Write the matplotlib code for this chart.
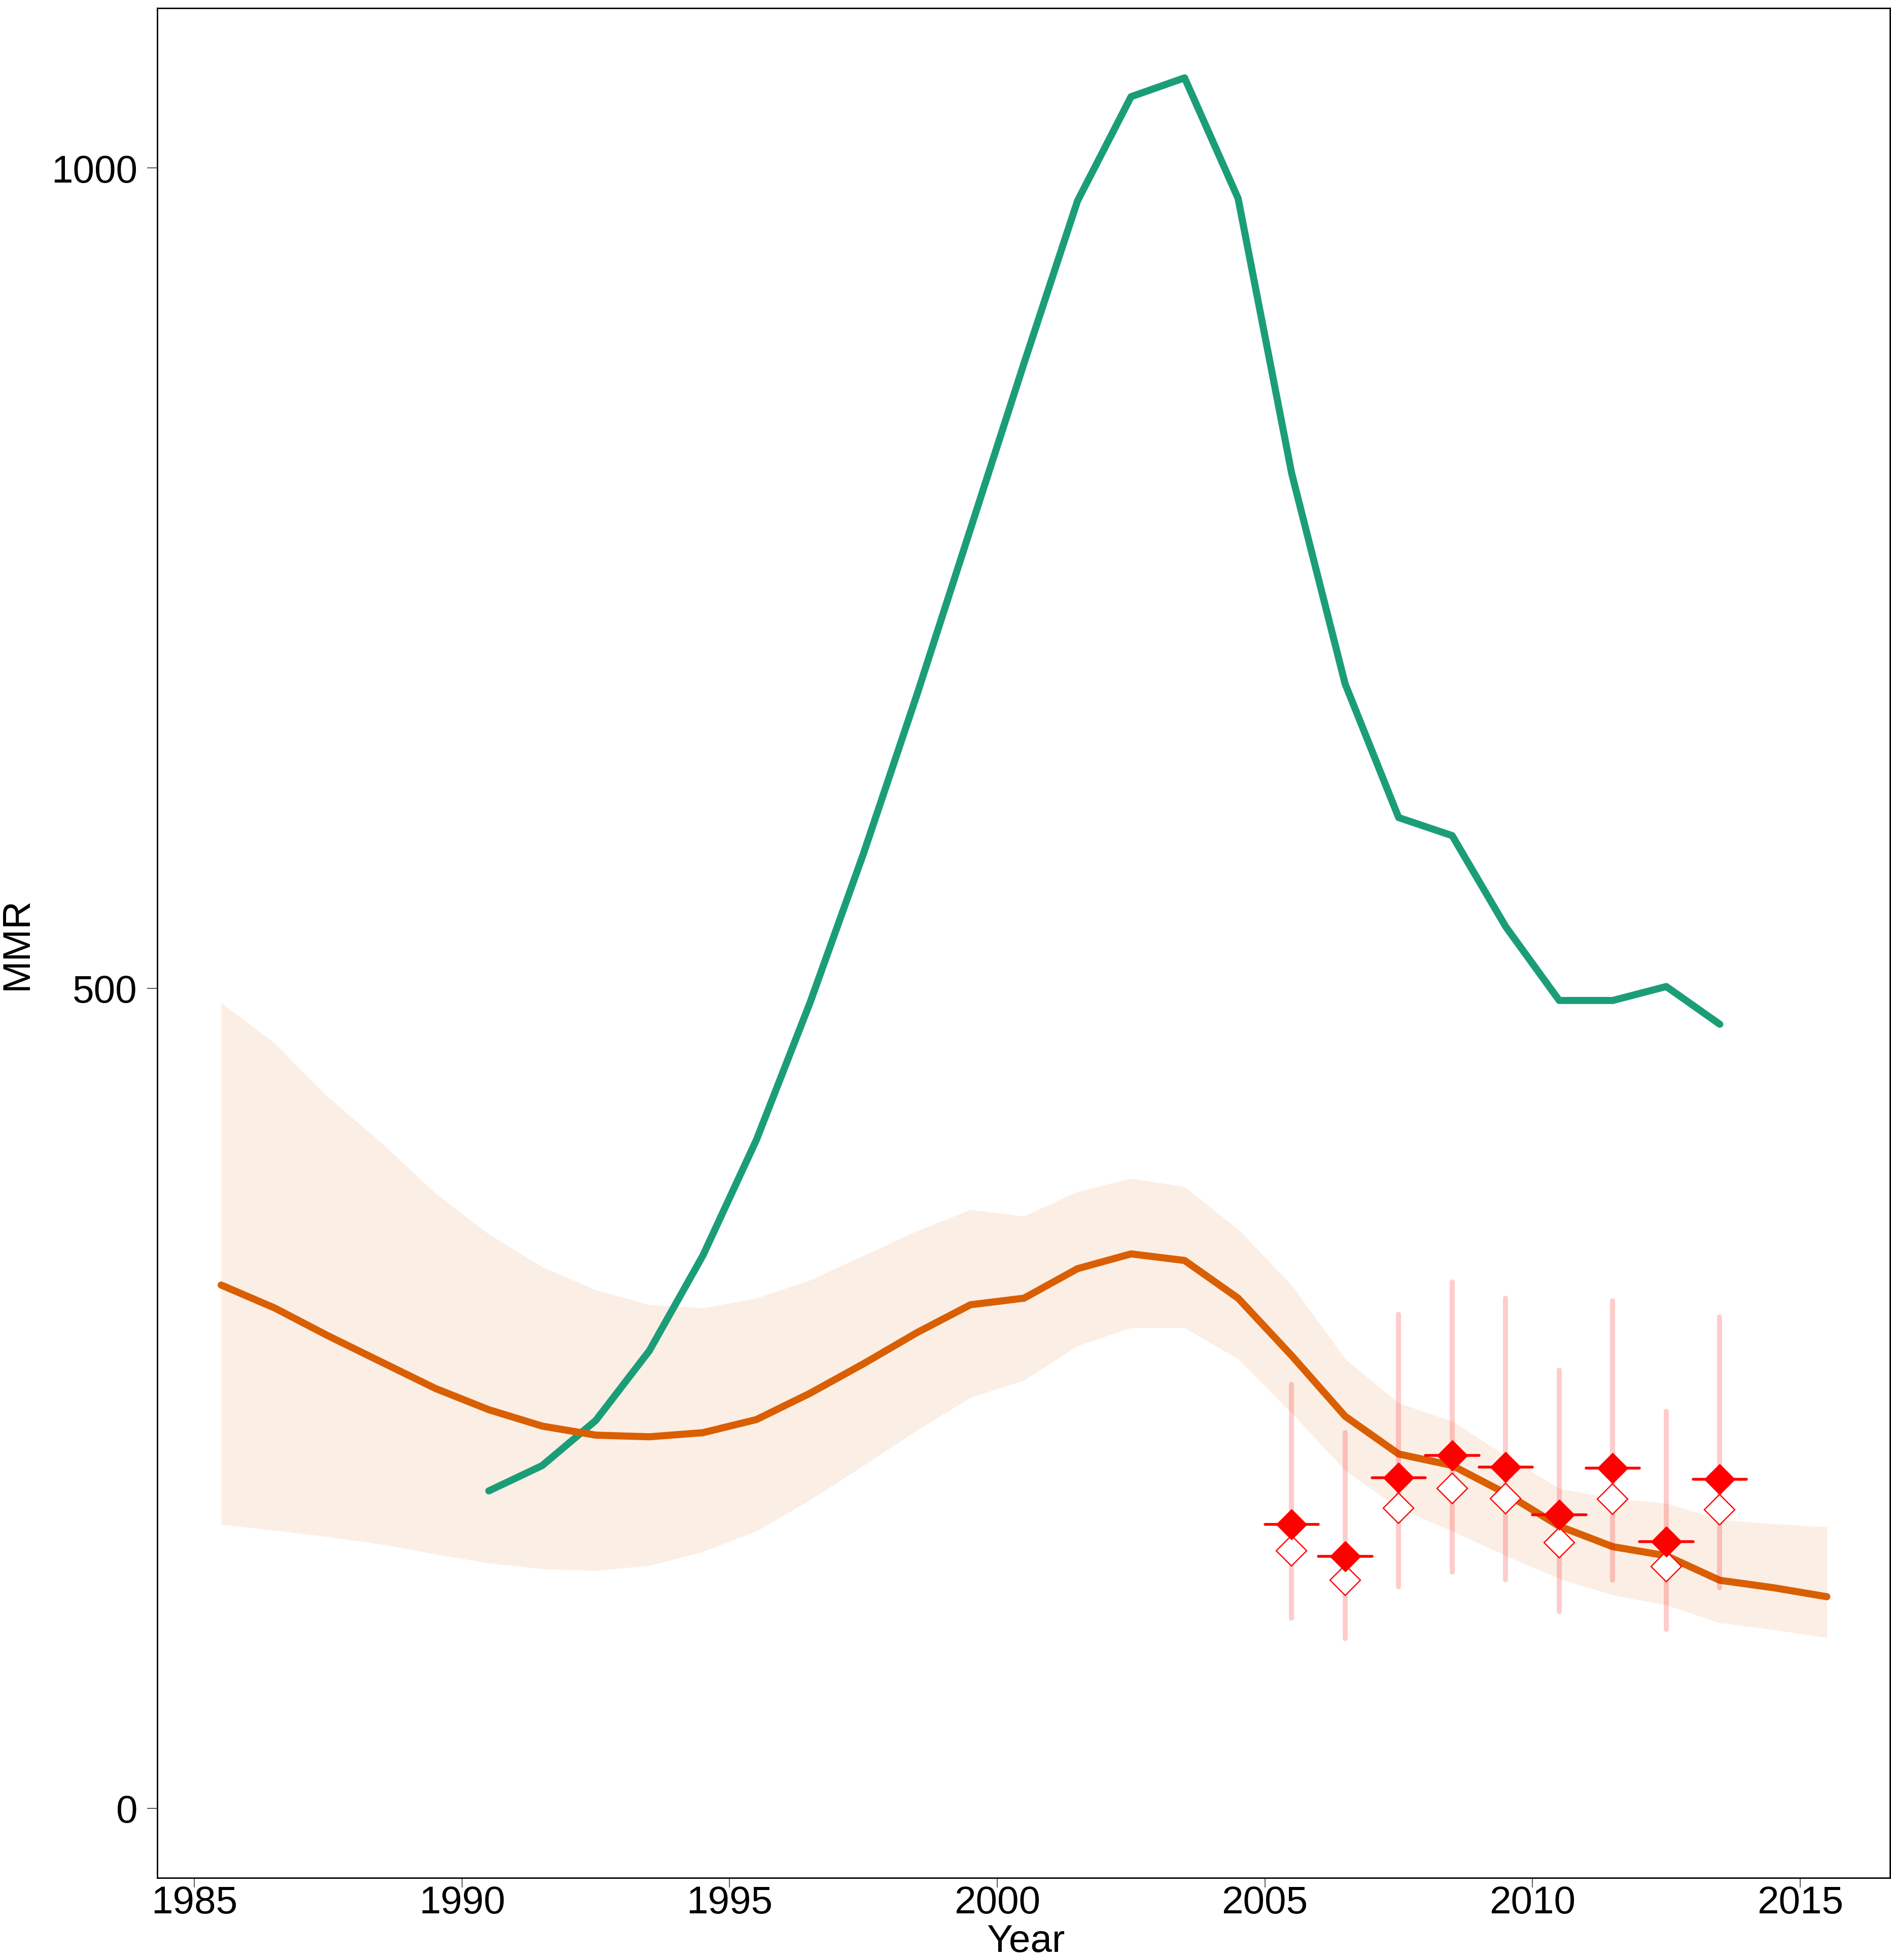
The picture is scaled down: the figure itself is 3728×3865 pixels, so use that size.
import matplotlib
matplotlib.use("Agg")
import matplotlib.pyplot as plt

# ---------------- data ----------------
model_years = [1985.5, 1986.5, 1987.5, 1988.5, 1989.5, 1990.5, 1991.5, 1992.5,
               1993.5, 1994.5, 1995.5, 1996.5, 1997.5, 1998.5, 1999.5, 2000.5,
               2001.5, 2002.5, 2003.5, 2004.5, 2005.5, 2006.5, 2007.5, 2008.5,
               2009.5, 2010.5, 2011.5, 2012.5, 2013.5, 2014.5, 2015.5]
model_median = [319, 305, 288, 272, 256, 243, 233, 227.5, 226.5, 229, 237, 253,
                271, 290, 307, 311, 329, 338, 334, 311, 276, 239, 216, 209, 192,
                172, 159.5, 154, 139, 134.5, 129]
model_upper = [491, 466.5, 433.5, 405.5, 375, 350, 330, 316, 307, 305, 311, 322,
               337, 352, 365, 361, 376, 384, 379, 353, 319, 274, 247, 236, 215,
               195, 189, 186, 176, 173.5, 171.5]
model_lower = [173, 169.5, 165.5, 161, 155, 149.5, 146, 145, 148, 156.5, 169, 188,
               209, 230.5, 250.5, 261, 282, 293, 293, 274, 241, 206, 183, 169, 154,
               140, 130, 124, 113, 109, 104]

other_years = [1990.5, 1991.5, 1992.5, 1993.5, 1994.5, 1995.5, 1996.5, 1997.5,
               1998.5, 1999.5, 2000.5, 2001.5, 2002.5, 2003.5, 2004.5, 2005.5,
               2006.5, 2007.5, 2008.5, 2009.5, 2010.5, 2011.5, 2012.5, 2013.5]
other_values = [193.5, 209, 236.5, 279, 337, 407.5, 491, 582, 679, 780, 881, 980,
                1043.5, 1055, 981.5, 814, 685.5, 604, 593, 537.5, 492.5, 492.5,
                501, 478]

obs_years = [2005.5, 2006.5, 2007.5, 2008.5, 2009.5, 2010.5, 2011.5, 2012.5, 2013.5]
obs_adjusted = [173, 153.5, 201.5, 215, 208, 179, 207.5, 162.5, 200.5]
obs_original = [157, 139, 183, 195, 189, 162, 188.5, 147.5, 182]
obs_low = [116, 103.5, 135, 144, 139.5, 120, 139, 109, 134.5]
obs_high = [258.5, 229, 301, 321, 311, 267, 309.5, 242, 299.5]

x_ticks = [1985, 1990, 1995, 2000, 2005, 2010, 2015]
y_ticks = [0, 500, 1000]

# ---------------- style ----------------
W, H = 3728, 3866
DPI = 100
PX = 72.0 / DPI  # points per pixel
FONT = "Liberation Sans"
FS = 55

ORANGE = "#D95F02"
GREEN = "#1B9E77"
RED = "#FF0000"

fig = plt.figure(figsize=(W / DPI, H / DPI), dpi=DPI)
fig.patch.set_facecolor("white")

ax_l, ax_r, ax_t, ax_b = 310, 3726, 17, 3704
ax = fig.add_axes([ax_l / W, (H - ax_b) / H, (ax_r - ax_l) / W, (ax_b - ax_t) / H])
ax.set_facecolor("white")

# ribbon + lines
ax.fill_between(model_years, model_lower, model_upper, color=ORANGE, alpha=0.1,
                linewidth=0, zorder=1)
ax.plot(other_years, other_values, color=GREEN, lw=14 * PX,
        solid_capstyle="round", solid_joinstyle="round", zorder=2)
ax.plot(model_years, model_median, color=ORANGE, lw=14 * PX,
        solid_capstyle="round", solid_joinstyle="round", zorder=3)

# vertical error bars
ax.vlines(obs_years, obs_low, obs_high, colors=RED, alpha=0.2, lw=10 * PX,
          capstyle="round", zorder=4)

# open diamonds
ax.plot(obs_years, obs_original, linestyle="none", marker="D", ms=31,
        mfc="white", mec=RED, mew=2.4 * PX, zorder=5)

# horizontal bars for adjusted points
ax.hlines(obs_adjusted, [y - 0.5 for y in obs_years], [y + 0.5 for y in obs_years],
          colors=RED, lw=5.5 * PX, capstyle="round", zorder=6)
# filled diamonds
ax.plot(obs_years, obs_adjusted, linestyle="none", marker="D", ms=31,
        mfc=RED, mec=RED, mew=1.0, zorder=7)

# axes
ax.set_xlim(1984.305, 2016.68)
ax.set_ylim(-42.4, 1097.5)
ax.set_xticks(x_ticks)
ax.set_yticks(y_ticks)
ax.set_xticklabels([str(v) for v in x_ticks], fontfamily=FONT, fontsize=FS)
ax.set_yticklabels([str(v) for v in y_ticks], fontfamily=FONT, fontsize=FS)
ax.tick_params(axis="x", direction="out", length=19 * PX, width=1.6 * PX,
               color="#333333", pad=-5 * PX)
ax.tick_params(axis="y", direction="out", length=20 * PX, width=1.6 * PX,
               color="#333333", pad=19 * PX)
for s in ax.spines.values():
    s.set_color("black")
    s.set_linewidth(2.8 * PX)

# axis titles
fig.text(2022 / W, (H - 3849) / H, "Year", ha="center", va="baseline",
         fontfamily=FONT, fontsize=FS)
fig.text(54 / W, (H - (ax_t + ax_b) / 2) / H, "MMR", rotation=90,
         rotation_mode="anchor", ha="center", va="baseline",
         fontfamily=FONT, fontsize=FS)

fig.savefig("out.png", dpi=DPI, facecolor="white")
